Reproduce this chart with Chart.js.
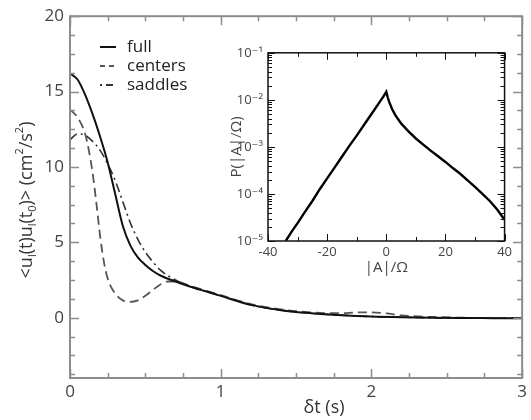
<!DOCTYPE html>
<html>
<head>
<meta charset="UTF-8">
<title>Velocity autocorrelation</title>
<script src="https://cdn.jsdelivr.net/npm/chart.js"></script>
<style>
  body { margin: 0; background: #fff; }
  #wrap { position: relative; width: 531px; height: 420px; }
  #main { position: absolute; left: 0; top: 0; }
  #inset { position: absolute; left: 195px; top: 40px; }
</style>
</head>
<body>
<div id="wrap">
  <canvas id="main" width="531" height="420"></canvas>
  <canvas id="inset" width="320" height="240"></canvas>
</div>
<script>
// --- main panel: <u(t)u(t0)> against lag dt ---
const lagT = [0, 0.05, 0.1, 0.15, 0.2, 0.25, 0.3, 0.35, 0.4, 0.45, 0.5, 0.55, 0.6, 0.7, 0.8, 0.9, 1.0, 1.2, 1.4, 1.6, 1.8, 2.0, 2.2, 2.4, 2.6, 2.8, 3.0];
const fullVals = [16.2, 15.8, 14.8, 13.5, 12.0, 10.3, 8.2, 6.1, 4.8, 4.0, 3.5, 3.1, 2.8, 2.4, 2.05, 1.75, 1.45, 0.85, 0.5, 0.3, 0.17, 0.08, 0.03, 0.0, -0.02, -0.03, -0.04];
const saddleVals = [11.8, 12.2, 12.1, 11.7, 11.1, 10.2, 9.1, 7.7, 6.3, 5.2, 4.35, 3.7, 3.15, 2.5, 2.05, 1.75, 1.45, 0.85, 0.5, 0.3, 0.17, 0.08, 0.03, 0.0, -0.02, -0.03, -0.04];

const lagC = [0, 0.05, 0.1, 0.125, 0.15, 0.175, 0.2, 0.225, 0.25, 0.3, 0.35, 0.4, 0.45, 0.5, 0.55, 0.6, 0.65, 0.7, 0.8, 0.9, 1.0, 1.2, 1.4, 1.6, 1.7, 1.8, 1.9, 2.0, 2.1, 2.2, 2.4, 2.6, 2.8, 3.0];
const centerVals = [13.8, 13.3, 12.2, 11.1, 9.6, 7.6, 5.4, 3.7, 2.6, 1.6, 1.15, 1.05, 1.15, 1.45, 1.85, 2.2, 2.4, 2.4, 2.1, 1.8, 1.5, 0.9, 0.55, 0.35, 0.3, 0.3, 0.35, 0.35, 0.28, 0.15, 0.05, 0.0, -0.02, -0.03];

const seriesNames = ['full', 'centers', 'saddles'];
const xTickVals = [0, 1, 2, 3];
const yTickVals = [0, 5, 10, 15, 20];

// --- inset: PDF of |A|/Omega ---
const pdfX = [-34, -32, -30, -27.5, -25, -22.5, -20, -17.5, -15, -12.5, -10, -7.5, -5, -2.5, -1, 0,
  0.5, 1, 2, 3, 5, 7.5, 10, 12.5, 15, 17.5, 20, 22.5, 25, 27.5, 30, 32.5, 35, 37.5, 40];
const pdfP = [1.0e-5, 1.58e-5, 2.4e-5, 4.17e-5, 7.08e-5, 1.26e-4, 2.14e-4, 3.63e-4, 6.17e-4, 1.05e-3, 1.74e-3, 2.95e-3, 5.01e-3, 8.51e-3, 1.17e-2, 1.48e-2,
  1.12e-2, 8.91e-3, 6.31e-3, 4.79e-3, 3.16e-3, 2.14e-3, 1.51e-3, 1.12e-3, 8.32e-4, 6.31e-4, 4.79e-4, 3.55e-4, 2.69e-4, 1.95e-4, 1.41e-4, 1.0e-4, 7.08e-5, 4.68e-5, 2.82e-5];
const insetXTicks = [-40, -20, 0, 20, 40];
const insetYTicks = [1e-5, 1e-4, 1e-3, 1e-2, 1e-1];

const FONT = '"Open Sans", "DejaVu Sans", sans-serif';
const SUP = { '-': '\u207B', '1': '\u00B9', '2': '\u00B2', '3': '\u00B3', '4': '\u2074', '5': '\u2075' };

function pts(xs, ys) { return xs.map((x, i) => ({ x: x, y: ys[i] })); }

// text with sub/superscript parts, centred on (cx, cy)
function drawRich(ctx, parts, cx, cy, size, rotate) {
  ctx.save();
  ctx.translate(cx, cy);
  if (rotate) ctx.rotate(-Math.PI / 2);
  const fontFor = p => (p.s ? Math.round(size * 0.62) : size) + 'px ' + FONT;
  let w = 0;
  parts.forEach(p => { ctx.font = fontFor(p); w += ctx.measureText(p.t).width; });
  let x = -w / 2;
  ctx.textBaseline = 'middle';
  ctx.textAlign = 'left';
  parts.forEach(p => {
    ctx.font = fontFor(p);
    const dy = p.s === 'sub' ? size * 0.3 : (p.s === 'sup' ? -size * 0.4 : 0);
    ctx.fillText(p.t, x, dy);
    x += ctx.measureText(p.t).width;
  });
  ctx.restore();
}

const legendDash = [[], [5, 4], [2, 4, 7, 3]];

const mainDecor = {
  id: 'mainDecor',
  afterDraw(chart) {
    const { ctx, chartArea: a, scales: { x, y } } = chart;
    ctx.save();
    ctx.strokeStyle = '#8c8c8c';
    ctx.lineWidth = 2;
    ctx.strokeRect(a.left, a.top, a.right - a.left, a.bottom - a.top);
    ctx.lineWidth = 1.5;
    ctx.beginPath();
    for (let v = 0; v <= 3.001; v += 0.25) {
      const px = Math.round(x.getPixelForValue(v)) + 0.5;
      const len = Math.abs(v - Math.round(v)) < 1e-6 ? 9 : 5;
      ctx.moveTo(px, a.bottom); ctx.lineTo(px, a.bottom - len);
      ctx.moveTo(px, a.top); ctx.lineTo(px, a.top + len);
    }
    for (let v = -3.75; v <= 20.001; v += 1.25) {
      const py = Math.round(y.getPixelForValue(v)) + 0.5;
      const len = Math.abs(v / 5 - Math.round(v / 5)) < 1e-6 ? 9 : 5;
      ctx.moveTo(a.left, py); ctx.lineTo(a.left + len, py);
      ctx.moveTo(a.right, py); ctx.lineTo(a.right - len, py);
    }
    ctx.stroke();

    // legend
    ctx.fillStyle = '#222';
    chart.data.datasets.forEach((ds, i) => {
      const ly = 47 + i * 19;
      ctx.strokeStyle = ds.borderColor;
      ctx.lineWidth = 2;
      ctx.setLineDash(legendDash[i]);
      ctx.beginPath(); ctx.moveTo(100, ly); ctx.lineTo(116, ly); ctx.stroke();
      ctx.setLineDash([]);
      ctx.font = '17px ' + FONT;
      ctx.textBaseline = 'middle';
      ctx.fillText(ds.label, 127, ly);
    });

    // axis titles
    ctx.fillStyle = '#333';
    drawRich(ctx, [{ t: '\u03B4t (s)' }], 324, 408, 18, false);
    drawRich(ctx, [
      { t: '<u' }, { t: 'l', s: 'sub' }, { t: '(t)u' }, { t: 'l', s: 'sub' }, { t: '(t' }, { t: '0', s: 'sub' },
      { t: ')> (cm' }, { t: '2', s: 'sup' }, { t: '/s' }, { t: '2', s: 'sup' }, { t: ')' }
    ], 27, 200, 18, true);
    ctx.restore();
  }
};

new Chart(document.getElementById('main').getContext('2d'), {
  type: 'line',
  data: {
    datasets: [
      { label: seriesNames[0], data: pts(lagT, fullVals), borderColor: '#111', borderWidth: 2 },
      { label: seriesNames[1], data: pts(lagC, centerVals), borderColor: '#555', borderWidth: 1.8, borderDash: [9, 5] },
      { label: seriesNames[2], data: pts(lagT, saddleVals), borderColor: '#333', borderWidth: 1.6, borderDash: [9, 4, 2, 4] }
    ]
  },
  options: {
    responsive: false,
    animation: false,
    layout: { padding: { top: 15, right: 4, left: 0, bottom: 0 } },
    elements: { point: { radius: 0 }, line: { cubicInterpolationMode: 'monotone' } },
    plugins: { legend: { display: false }, tooltip: { enabled: false } },
    scales: {
      x: {
        type: 'linear', min: 0, max: 3,
        afterBuildTicks: s => { s.ticks = xTickVals.map(v => ({ value: v })); },
        afterFit: s => { s.height = 42; },
        grid: { display: false, drawTicks: false },
        border: { display: false },
        ticks: { padding: 4, color: '#444', maxRotation: 0, font: { family: FONT, size: 17 } }
      },
      y: {
        type: 'linear', min: -4, max: 20,
        afterBuildTicks: s => { s.ticks = yTickVals.map(v => ({ value: v })); },
        afterFit: s => { s.width = 70; },
        grid: { display: false, drawTicks: false },
        border: { display: false },
        ticks: { padding: 6, color: '#444', font: { family: FONT, size: 17 } }
      }
    }
  },
  plugins: [mainDecor]
});

const insetFrame = {
  id: 'insetFrame',
  afterDraw(chart) {
    const { ctx, chartArea: a, scales: { x, y } } = chart;
    ctx.save();
    ctx.strokeStyle = '#111';
    ctx.lineWidth = 1.5;
    ctx.strokeRect(a.left, a.top, a.right - a.left, a.bottom - a.top);
    ctx.lineWidth = 1;
    ctx.beginPath();
    for (let v = -40; v <= 40; v += 10) {
      const px = Math.round(x.getPixelForValue(v)) + 0.5;
      const len = v % 20 === 0 ? 7 : 4;
      ctx.moveTo(px, a.bottom); ctx.lineTo(px, a.bottom - len);
      ctx.moveTo(px, a.top); ctx.lineTo(px, a.top + len);
    }
    insetYTicks.forEach(p => {
      for (let m = 1; m <= 9; m++) {
        const val = p * m;
        if (val > 0.1 + 1e-9) break;
        const py = Math.round(y.getPixelForValue(val)) + 0.5;
        const len = m === 1 ? 7 : 4;
        ctx.moveTo(a.left, py); ctx.lineTo(a.left + len, py);
        ctx.moveTo(a.right, py); ctx.lineTo(a.right - len, py);
      }
    });
    ctx.stroke();
    ctx.restore();
  }
};

new Chart(document.getElementById('inset').getContext('2d'), {
  type: 'line',
  data: {
    datasets: [{ data: pts(pdfX, pdfP), borderColor: '#000', borderWidth: 2.4, tension: 0 }]
  },
  options: {
    responsive: false,
    animation: false,
    layout: { padding: { top: 8, right: 10, left: 0, bottom: 0 } },
    elements: { point: { radius: 0 } },
    plugins: { legend: { display: false }, tooltip: { enabled: false } },
    scales: {
      x: {
        type: 'linear', min: -40, max: 40,
        afterBuildTicks: s => { s.ticks = insetXTicks.map(v => ({ value: v })); },
        afterFit: s => { s.height = 39; },
        grid: { display: false, drawTicks: false },
        border: { display: false },
        ticks: { padding: 3, color: '#444', maxRotation: 0, font: { family: FONT, size: 13 } },
        title: { display: true, text: '|A|/\u03A9', color: '#444', font: { family: FONT, size: 15 }, padding: { top: 0, bottom: 3 } }
      },
      y: {
        type: 'logarithmic', min: 1e-5, max: 1e-1,
        afterBuildTicks: s => { s.ticks = insetYTicks.map(v => ({ value: v })); },
        afterFit: s => { s.width = 73; },
        grid: { display: false, drawTicks: false },
        border: { display: false },
        ticks: {
          padding: 5, color: '#444', font: { family: FONT, size: 13 },
          callback: v => '10' + String(Math.round(Math.log10(v))).split('').map(c => SUP[c]).join('')
        },
        title: { display: true, text: 'P(|A|/\u03A9)', color: '#444', font: { family: FONT, size: 15 }, padding: { top: 33, bottom: 0 } }
      }
    }
  },
  plugins: [insetFrame]
});
</script>
</body>
</html>
